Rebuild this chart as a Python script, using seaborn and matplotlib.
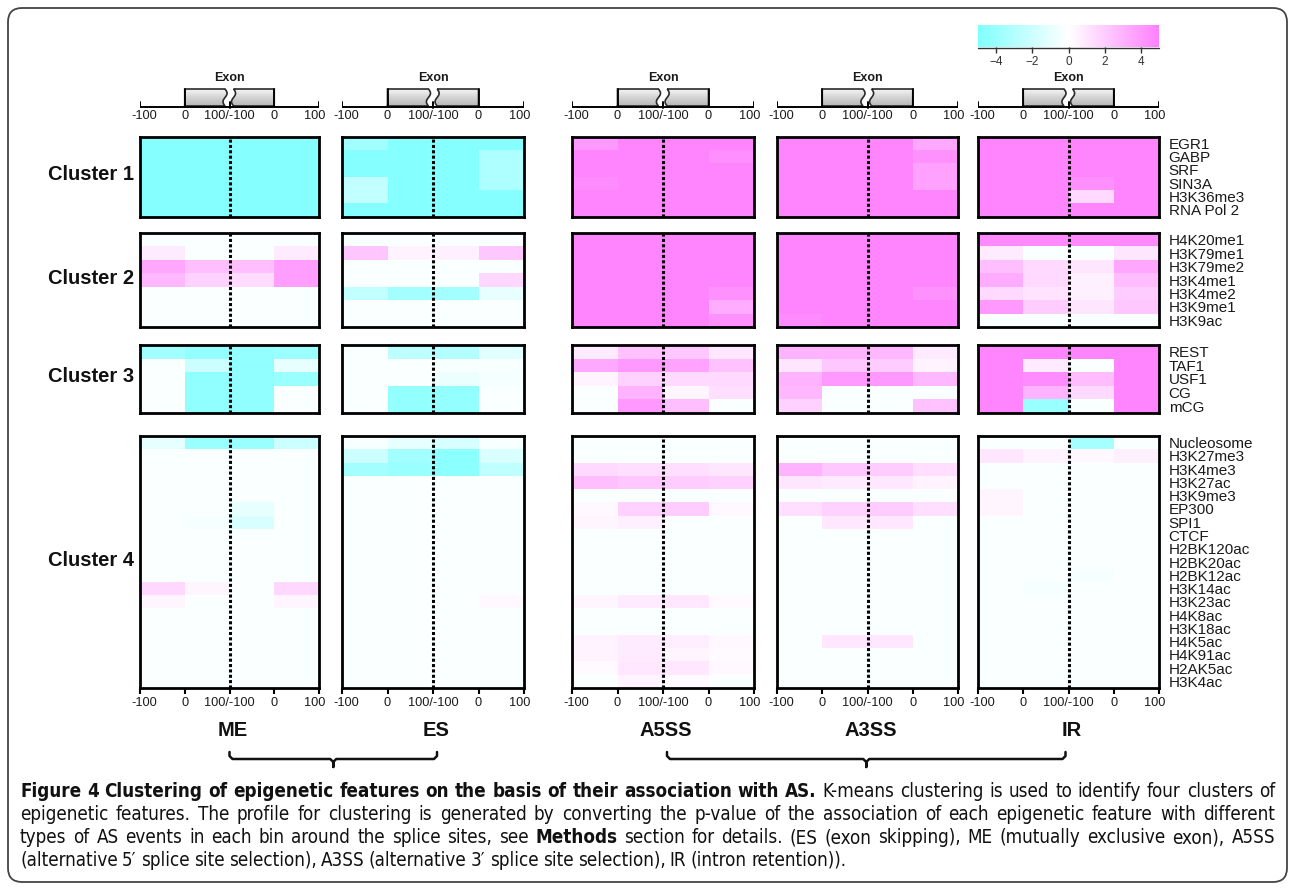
import numpy as np
import pandas as pd
import matplotlib
matplotlib.use("Agg")
import matplotlib.pyplot as plt
import matplotlib.transforms as mtransforms
import seaborn as sns
from matplotlib.colors import LinearSegmentedColormap
from matplotlib.patches import FancyBboxPatch, PathPatch
from matplotlib.path import Path
from matplotlib import font_manager

# ------------------------------------------------------------------ data
event_types = ["ME", "ES", "A5SS", "A3SS", "IR"]
bin_names = ["up_intron", "exon_start", "exon_end", "down_intron"]
bin_labels = ["-100", "0", "100/-100", "0", "100"]

cluster1_features = ["EGR1", "GABP", "SRF", "SIN3A", "H3K36me3", "RNA Pol 2"]
cluster2_features = ["H4K20me1", "H3K79me1", "H3K79me2", "H3K4me1", "H3K4me2",
                     "H3K9me1", "H3K9ac"]
cluster3_features = ["REST", "TAF1", "USF1", "CG", "mCG"]
cluster4_features = ["Nucleosome", "H3K27me3", "H3K4me3", "H3K27ac", "H3K9me3",
                     "EP300", "SPI1", "CTCF", "H2BK120ac", "H2BK20ac", "H2BK12ac",
                     "H3K14ac", "H3K23ac", "H4K8ac", "H3K18ac", "H4K5ac",
                     "H4K91ac", "H2AK5ac", "H3K4ac"]

# association scores (signed -log p) per feature and bin
c1_me = [[-4.8, -4.8, -4.8, -4.8],
         [-4.8, -4.8, -4.8, -4.8],
         [-4.8, -4.8, -4.8, -4.8],
         [-4.8, -4.8, -4.8, -4.8],
         [-4.8, -4.8, -4.8, -4.8],
         [-4.8, -4.8, -4.8, -4.8]]
c1_es = [[-3.7, -4.8, -4.8, -4.8],
         [-4.8, -4.8, -4.8, -3.2],
         [-4.8, -4.8, -4.8, -3.2],
         [-2.4, -4.8, -4.8, -3.2],
         [-2.4, -4.8, -4.8, -4.8],
         [-4.8, -4.8, -4.8, -4.8]]
c1_a5ss = [[4.0, 4.8, 4.8, 4.8],
           [4.8, 4.8, 4.8, 4.4],
           [4.8, 4.8, 4.8, 4.8],
           [4.5, 4.8, 4.8, 4.8],
           [4.8, 4.8, 4.8, 4.8],
           [4.8, 4.8, 4.8, 4.8]]
c1_a3ss = [[4.8, 4.8, 4.8, 3.4],
           [4.8, 4.8, 4.8, 4.3],
           [4.8, 4.8, 4.8, 3.7],
           [4.8, 4.8, 4.8, 3.7],
           [4.8, 4.8, 4.8, 4.8],
           [4.8, 4.8, 4.8, 4.8]]
c1_ir = [[4.8, 4.8, 4.8, 4.8],
         [4.8, 4.8, 4.8, 4.8],
         [4.8, 4.8, 4.8, 4.8],
         [4.8, 4.8, 4.4, 4.8],
         [4.8, 4.8, 1.5, 4.8],
         [4.8, 4.8, 4.8, 4.8]]

c2_me = [[-0.2, -0.2, -0.2, -0.2],
         [0.8, -0.2, -0.2, 0.8],
         [3.5, 2.5, 2.5, 3.8],
         [2.8, 1.8, 1.4, 3.8],
         [-0.2, -0.2, -0.2, -0.2],
         [-0.2, -0.2, -0.2, -0.2],
         [-0.2, -0.2, -0.2, -0.2]]
c2_es = [[-0.2, -0.2, -0.2, -0.2],
         [2.3, 0.5, 0.6, 2.2],
         [-0.2, -0.2, -0.2, -0.2],
         [-0.2, -0.2, -0.2, 1.6],
         [-2.4, -3.6, -3.6, -0.9],
         [-0.2, -0.2, -0.2, -0.2],
         [-0.2, -0.2, -0.2, -0.2]]
c2_a5ss = [[4.8, 4.8, 4.8, 4.8],
           [4.8, 4.8, 4.8, 4.8],
           [4.8, 4.8, 4.8, 4.8],
           [4.8, 4.8, 4.8, 4.8],
           [4.8, 4.8, 4.8, 4.3],
           [4.8, 4.8, 4.8, 3.3],
           [4.8, 4.8, 4.8, 4.3]]
c2_a3ss = [[4.8, 4.8, 4.8, 4.8],
           [4.8, 4.8, 4.8, 4.8],
           [4.8, 4.8, 4.8, 4.8],
           [4.8, 4.8, 4.8, 4.8],
           [4.8, 4.8, 4.8, 4.3],
           [4.8, 4.8, 4.8, 4.8],
           [4.5, 4.8, 4.8, 4.8]]
c2_ir = [[4.6, 4.6, 4.6, 4.6],
         [0.8, -0.2, -0.2, 1.0],
         [2.5, 1.5, 1.0, 3.5],
         [3.3, 1.5, 0.6, 2.6],
         [1.5, 1.1, 0.6, 2.0],
         [4.0, 2.0, 1.0, 2.2],
         [-0.2, -0.2, -0.2, -0.2]]

c3_me = [[-3.7, -4.2, -4.2, -3.9],
         [-0.2, -2.0, -4.3, -0.9],
         [-0.2, -4.3, -4.3, -4.0],
         [-0.2, -4.3, -4.3, -0.2],
         [-0.2, -4.3, -4.3, -0.2]]
c3_es = [[-0.2, -2.6, -3.0, -1.2],
         [-0.2, -0.2, -0.3, -0.3],
         [-0.2, -0.2, -0.8, -0.4],
         [-0.2, -4.2, -4.2, -0.2],
         [-0.2, -4.2, -4.2, -0.2]]
c3_a5ss = [[0.8, 2.4, 2.2, 0.9],
           [3.4, 4.0, 3.6, 2.4],
           [0.5, 1.8, 1.5, 1.5],
           [-0.2, 3.0, 0.4, 1.3],
           [-0.2, 4.0, 2.5, -0.2]]
c3_a3ss = [[3.0, 3.0, 2.8, 0.8],
           [1.0, 2.2, 2.0, 0.5],
           [3.0, 4.0, 4.0, 2.8],
           [2.8, -0.2, -0.2, -0.2],
           [1.8, -0.2, -0.2, 2.4]]
c3_ir = [[4.8, 4.8, 4.8, 4.8],
         [4.8, 0.8, -0.2, 4.8],
         [4.8, 4.5, 2.6, 4.8],
         [4.8, 3.0, 1.5, 4.8],
         [4.8, -4.0, -0.2, 4.8]]

c4_me = [[-1.0, -4.0, -4.0, -2.0],
         [-0.2, -0.2, -0.2, -0.2],
         [-0.2, -0.2, -0.2, -0.2],
         [-0.2, -0.2, -0.2, -0.2],
         [-0.2, -0.2, -0.2, -0.2],
         [-0.2, -0.2, -0.9, -0.2],
         [-0.2, -0.4, -1.6, -0.2],
         [-0.2, -0.2, -0.2, -0.2],
         [-0.2, -0.2, -0.2, -0.2],
         [-0.2, -0.2, -0.2, -0.2],
         [-0.2, -0.2, -0.2, -0.2],
         [1.6, 0.4, -0.2, 1.6],
         [0.4, -0.2, -0.2, 0.4],
         [-0.2, -0.2, -0.2, -0.2],
         [-0.2, -0.2, -0.2, -0.2],
         [-0.2, -0.2, -0.2, -0.2],
         [-0.2, -0.2, -0.2, -0.2],
         [-0.2, -0.2, -0.2, -0.2],
         [-0.2, -0.2, -0.2, -0.2]]
c4_es = [[-0.3, -1.0, -1.6, -0.3],
         [-2.0, -3.6, -4.5, -1.5],
         [-3.6, -4.0, -4.5, -2.5],
         [-0.2, -0.2, -0.2, -0.2],
         [-0.2, -0.2, -0.2, -0.2],
         [-0.2, -0.2, -0.2, -0.2],
         [-0.2, -0.2, -0.2, -0.2],
         [-0.2, -0.2, -0.2, -0.2],
         [-0.2, -0.2, -0.2, -0.2],
         [-0.2, -0.2, -0.2, -0.2],
         [-0.2, -0.2, -0.2, -0.2],
         [-0.2, -0.2, -0.2, -0.2],
         [-0.2, -0.2, -0.2, 0.3],
         [-0.2, -0.2, -0.2, -0.2],
         [-0.2, -0.2, -0.2, -0.2],
         [-0.2, -0.2, -0.2, -0.2],
         [-0.2, -0.2, -0.2, -0.2],
         [-0.2, -0.2, -0.2, -0.2],
         [-0.2, -0.2, -0.2, -0.2]]
c4_a5ss = [[-0.2, -0.2, -0.2, -0.2],
           [-0.2, -0.2, -0.2, -0.2],
           [1.5, 1.3, 1.3, 1.0],
           [2.5, 2.2, 2.0, 1.8],
           [-0.2, -0.2, -0.2, -0.2],
           [0.3, 1.8, 2.0, 0.3],
           [0.4, 0.6, -0.2, -0.2],
           [-0.2, -0.2, -0.2, -0.2],
           [-0.2, -0.2, -0.2, -0.2],
           [-0.2, -0.2, -0.2, -0.2],
           [-0.2, -0.2, -0.2, -0.2],
           [-0.2, -0.2, -0.2, -0.2],
           [0.4, 0.8, 0.9, 0.2],
           [-0.2, -0.2, -0.2, -0.2],
           [-0.2, -0.2, -0.2, -0.2],
           [0.5, 0.8, 0.7, 0.3],
           [0.5, 0.8, 0.4, 0.2],
           [0.2, 0.9, 0.9, 0.3],
           [-0.2, 0.5, 0.2, -0.2]]
c4_a3ss = [[-0.2, -0.2, -0.2, -0.2],
           [-0.2, -0.2, -0.2, -0.2],
           [3.0, 2.2, 2.0, 1.3],
           [1.0, 0.8, 0.9, 0.5],
           [-0.2, -0.2, -0.2, -0.2],
           [1.3, 1.8, 2.0, 1.3],
           [-0.2, 0.9, 0.9, -0.2],
           [-0.2, -0.2, -0.2, -0.2],
           [-0.2, -0.2, -0.2, -0.2],
           [-0.2, -0.2, -0.2, -0.2],
           [-0.2, -0.2, -0.2, -0.2],
           [-0.2, -0.2, -0.2, -0.2],
           [-0.2, -0.2, -0.2, -0.2],
           [-0.2, -0.2, -0.2, -0.2],
           [-0.2, -0.2, -0.2, -0.2],
           [-0.2, 0.9, 0.9, -0.2],
           [-0.2, -0.2, -0.2, -0.2],
           [-0.2, -0.2, -0.2, -0.2],
           [-0.2, -0.2, -0.2, -0.2]]
c4_ir = [[-0.2, -0.2, -3.5, -0.2],
         [1.0, 0.5, 0.3, 0.6],
         [-0.2, -0.2, -0.2, -0.2],
         [-0.2, -0.2, -0.2, -0.2],
         [0.4, -0.2, -0.2, -0.2],
         [0.4, -0.2, -0.2, -0.2],
         [-0.2, -0.2, -0.2, -0.2],
         [-0.2, -0.2, -0.2, -0.2],
         [-0.2, -0.2, -0.2, -0.2],
         [-0.2, -0.2, -0.2, -0.2],
         [-0.2, -0.2, -0.4, -0.2],
         [-0.2, -0.4, -0.2, -0.2],
         [-0.2, -0.2, -0.2, -0.2],
         [-0.2, -0.2, -0.2, -0.2],
         [-0.2, -0.2, -0.2, -0.2],
         [-0.2, -0.2, -0.2, -0.2],
         [-0.2, -0.2, -0.2, -0.2],
         [-0.2, -0.2, -0.2, -0.2],
         [-0.2, -0.2, -0.2, -0.2]]

cluster_features = [cluster1_features, cluster2_features,
                    cluster3_features, cluster4_features]
cluster_values = [
    dict(zip(event_types, [c1_me, c1_es, c1_a5ss, c1_a3ss, c1_ir])),
    dict(zip(event_types, [c2_me, c2_es, c2_a5ss, c2_a3ss, c2_ir])),
    dict(zip(event_types, [c3_me, c3_es, c3_a5ss, c3_a3ss, c3_ir])),
    dict(zip(event_types, [c4_me, c4_es, c4_a5ss, c4_a3ss, c4_ir])),
]

caption_lines = [
    [("Figure 4 Clustering of epigenetic features on the basis of their association with AS.", True),
     ("K-means clustering is used to identify four clusters of", False)],
    [("epigenetic features. The profile for clustering is generated by converting the p-value "
      "of the association of each epigenetic feature with different", False)],
    [("types of AS events in each bin around the splice sites, see", False),
     ("Methods", True),
     ("section for details. (ES (exon skipping), ME (mutually exclusive exon), A5SS", False)],
    [("(alternative 5\u2032 splice site selection), A3SS (alternative 3\u2032 splice site "
      "selection), IR (intron retention)).", False)],
]

# ------------------------------------------------------------------ style
sns.set_theme(style="white")
plt.rcParams["font.family"] = ["Liberation Sans", "DejaVu Sans"]

font_names = {f.name for f in font_manager.fontManager.ttflist}
if "Liberation Sans Narrow" in font_names:
    cap_family, cap_stretch = ["Liberation Sans Narrow", "DejaVu Sans"], "normal"
else:
    cap_family, cap_stretch = ["DejaVu Sans"], "condensed"

W, H = 1295, 890
fig = plt.figure(figsize=(W / 100, H / 100), dpi=100)
fig.patch.set_facecolor("white")

# pixel-space overlay for annotations
bg = fig.add_axes([0, 0, 1, 1], zorder=-1)
bg.set_xlim(0, W)
bg.set_ylim(H, 0)
bg.axis("off")


def rect(x0, y0, x1, y1):
    return [x0 / W, 1 - y1 / H, (x1 - x0) / W, (y1 - y0) / H]


panel_x = {"ME": (140, 319), "ES": (342, 524), "A5SS": (572, 754),
           "A3SS": (777, 958), "IR": (978, 1159)}
cluster_y = [(136.5, 216.5), (233, 327), (345, 413), (436, 688)]

# end labels are nudged apart so neighbouring panels' "100" and "-100" do not collide
label_nudge = [4, 0, 0, 0, -4]   # pixels

cmap = LinearSegmentedColormap.from_list(
    "cyan_white_magenta", ["#80ffff", "#ffffff", "#ff80ff"])
box_cmap = LinearSegmentedColormap.from_list(
    "exon_shade", ["#f4f4f4", "#d2d2d2", "#b4b4b4"])


def nudge(dx_px):
    return mtransforms.ScaledTranslation(dx_px / 100, 0, fig.dpi_scale_trans)


def draw_exon_diagram(ax):
    line_y, top = 107, 89
    ax.plot([0, 4], [line_y, line_y], color="black", lw=1.4,
            solid_capstyle="butt", zorder=3)
    for x in (0, 4):
        ax.plot([x, x], [line_y, line_y - 5], color="black", lw=1.4, zorder=3)
    ax.plot([2, 2], [line_y + 0.5, line_y - 5], color="black", lw=1.4, zorder=3)
    t = np.linspace(0, 1, 40)
    ys = top + (line_y - 1 - top) * t
    for side in (0, 1):
        if side == 0:
            wave = 2 - 0.1 + 0.045 * np.sin(2 * np.pi * t)
            verts = [(1, line_y), (1, top)] + list(zip(wave, ys)) + [(1, line_y - 1)]
        else:
            wave = 2 + 0.09 + 0.045 * np.sin(2 * np.pi * t)
            verts = list(zip(wave, ys)) + [(3, line_y - 1), (3, top), (wave[0], top)]
        path = Path(verts + [verts[0]])
        clip = PathPatch(path, fc="none", ec="none")
        ax.add_patch(clip)
        grad = np.linspace(0, 1, 60).reshape(-1, 1)
        im = ax.imshow(grad, extent=(1, 3, line_y, top), cmap=box_cmap,
                       aspect="auto", interpolation="bicubic", zorder=1)
        im.set_clip_path(clip)
        ax.add_patch(PathPatch(path, fc="none", ec="#2a2a2a", lw=1.2, zorder=2))
    ax.plot([1, 1], [top, line_y], color="black", lw=1.3, zorder=3)
    ax.plot([3, 3], [top, line_y], color="black", lw=1.3, zorder=3)
    ax.text(2, 78, "Exon", ha="center", va="center", fontsize=9,
            fontweight="bold", color="#1a1a1a")
    for x, lab in enumerate(bin_labels):
        ax.text(x, 116, lab, ha="center", va="center", fontsize=9.2,
                color="#1a1a1a", clip_on=False,
                transform=ax.transData + nudge(label_nudge[x]))
    ax.set_xlim(0, 4)
    ax.set_ylim(125, 65)
    ax.axis("off")


mappable = None
for ci, (feats, values) in enumerate(zip(cluster_features, cluster_values)):
    y0, y1 = cluster_y[ci]
    for ev in event_types:
        x0, x1 = panel_x[ev]
        ax = fig.add_axes(rect(x0, y0, x1, y1))
        df = pd.DataFrame(values[ev], index=feats, columns=bin_names)
        sns.heatmap(df, ax=ax, cmap=cmap, vmin=-5, vmax=5, cbar=False,
                    xticklabels=False, yticklabels=False)
        mappable = ax.collections[0]
        for s in ax.spines.values():
            s.set_visible(True)
            s.set_linewidth(2.0)
            s.set_color("black")
        ax.axvline(2, color="black", lw=2.2, ls=(0, (1.0, 0.75)))
        ax.set_xticks([])
        ax.set_yticks([])
        if ev == "IR":
            ax.yaxis.tick_right()
            ax.set_yticks(np.arange(len(feats)) + 0.5)
            ax.set_yticklabels(feats, rotation=0, fontsize=11, color="#1a1a1a")
            ax.tick_params(axis="y", length=0, pad=7, right=True, left=False)
        if ci == 3:
            ax.set_xticks(range(5))
            ax.set_xticklabels(bin_labels, fontsize=9.2, color="#1a1a1a")
            ax.tick_params(axis="x", bottom=True, length=4.5, width=1.5,
                           direction="out", pad=2, color="black")
            for lab, dx in zip(ax.get_xticklabels(), label_nudge):
                lab.set_transform(lab.get_transform() + nudge(dx))
        if ci == 0:
            dax = fig.add_axes(rect(x0, 65, x1, 125))
            draw_exon_diagram(dax)
    bg.text(48, (y0 + y1) / 2 - 2, f"Cluster {ci + 1}", fontsize=14.5,
            fontweight="bold", va="center", ha="left", color="#111")

# colour bar
cax = fig.add_axes(rect(978, 25, 1159, 47))
cb = fig.colorbar(mappable, cax=cax, orientation="horizontal",
                  ticks=[-4, -2, 0, 2, 4])
cb.outline.set_visible(False)
cax.tick_params(axis="x", bottom=True, length=4, width=1, labelsize=8.5,
                pad=2.5, colors="#333", direction="out")
bg.plot([978, 1159], [48, 48], color="#333", lw=1)

# event-type labels and grouping braces
mids = {ev: (panel_x[ev][0] + panel_x[ev][1]) / 2 for ev in event_types}
for ev in event_types:
    bg.text(mids[ev] + 3, 731, ev, fontsize=14.5, fontweight="bold",
            ha="center", va="center", color="#111")


def brace(xa, xb, y=759):
    xm = (xa + xb) / 2
    xs = [xa, xa, xa + 3, xm - 3, xm, xm, xm, xm + 3, xb - 3, xb, xb]
    ys = [y - 7, y - 3, y, y, y + 3, y + 8, y + 3, y, y, y - 3, y - 7]
    bg.plot(xs, ys, color="#111", lw=1.8, solid_joinstyle="round")


brace(mids["ME"], mids["ES"] + 4)
brace(mids["A5SS"] + 4, mids["IR"] - 3)

# outer frame
bg.add_patch(FancyBboxPatch((8, 8), 1279, 874,
                            boxstyle="round,pad=0,rounding_size=14",
                            fc="none", ec="#444", lw=1.3))

# justified caption
fig.canvas.draw()
renderer = fig.canvas.get_renderer()
CAP_FS = 13.5
cap_left, cap_right = 20, 1275
baselines = [797, 820, 843, 866]
for li, runs in enumerate(caption_lines):
    words = [(w, b) for text, b in runs for w in text.split()]
    texts = [bg.text(0, baselines[li], w, fontsize=CAP_FS,
                     fontweight="bold" if b else "normal",
                     family=cap_family, fontstretch=cap_stretch,
                     va="baseline", ha="left", color="#111")
             for w, b in words]
    widths = [t.get_window_extent(renderer).width for t in texts]
    if li < len(caption_lines) - 1:
        gap = (cap_right - cap_left - sum(widths)) / (len(words) - 1)
    else:
        gap = 0.23 * CAP_FS * 100 / 72
    x = cap_left
    for t, w in zip(texts, widths):
        t.set_x(x)
        x += w + gap

fig.savefig("out.png", dpi=100, facecolor="white")
